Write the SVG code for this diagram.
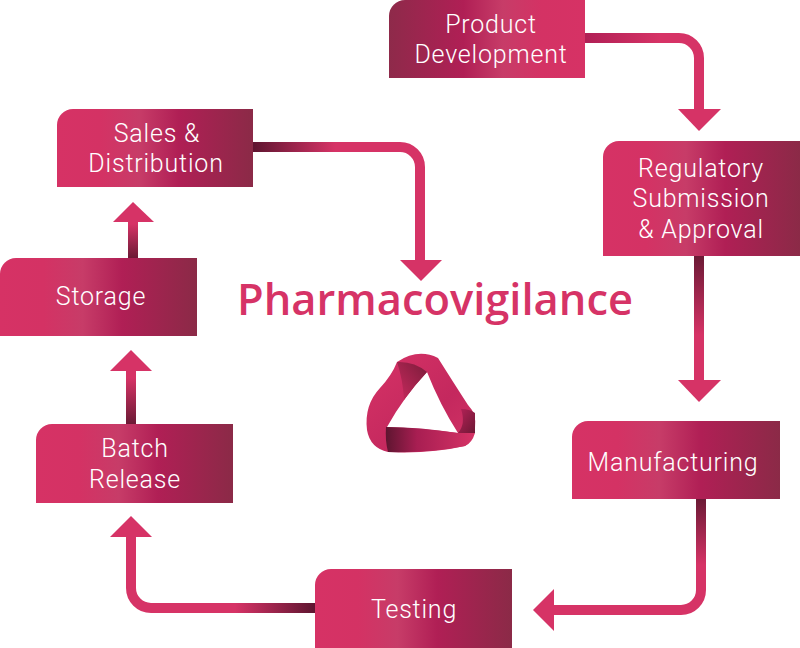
<svg xmlns="http://www.w3.org/2000/svg" width="800" height="648" viewBox="0 0 800 648">
<defs>
<style>
.lbl{font-family:Roboto,"Liberation Sans",sans-serif;font-weight:300;font-size:25px;letter-spacing:0.8px;fill:#ffffff;text-anchor:middle}
.title{font-family:"Open Sans","Noto Sans","Liberation Sans",sans-serif;font-weight:600;font-size:43px;fill:#d63366;text-anchor:middle}
.arrow{fill:#d63366}
.line{fill:none;stroke-width:10}
</style>
<linearGradient id="boxG" x1="0" y1="0" x2="1" y2="0">
<stop offset="0" stop-color="#d63265"/>
<stop offset="0.22" stop-color="#d43264"/>
<stop offset="0.42" stop-color="#c73c68"/>
<stop offset="0.62" stop-color="#b01f55"/>
<stop offset="1" stop-color="#8b2a47"/>
</linearGradient>
<linearGradient id="boxGR" x1="0" y1="0" x2="1" y2="0">
<stop offset="0" stop-color="#8e2a4a"/>
<stop offset="0.38" stop-color="#b01f55"/>
<stop offset="0.58" stop-color="#c73c68"/>
<stop offset="0.78" stop-color="#d43264"/>
<stop offset="1" stop-color="#d63265"/>
</linearGradient>
<linearGradient id="g1" gradientUnits="userSpaceOnUse" x1="585" y1="0" x2="660" y2="0">
<stop offset="0" stop-color="#b01f55"/><stop offset="1" stop-color="#d63366"/>
</linearGradient>
<linearGradient id="g2" gradientUnits="userSpaceOnUse" x1="0" y1="256" x2="0" y2="335">
<stop offset="0" stop-color="#6b1a35"/><stop offset="1" stop-color="#d63366"/>
</linearGradient>
<linearGradient id="g3" gradientUnits="userSpaceOnUse" x1="0" y1="499" x2="0" y2="565">
<stop offset="0" stop-color="#6b1a35"/><stop offset="1" stop-color="#d63366"/>
</linearGradient>
<linearGradient id="g4" gradientUnits="userSpaceOnUse" x1="315" y1="0" x2="235" y2="0">
<stop offset="0" stop-color="#5e1530"/><stop offset="1" stop-color="#d63366"/>
</linearGradient>
<linearGradient id="g5" gradientUnits="userSpaceOnUse" x1="0" y1="424" x2="0" y2="378">
<stop offset="0" stop-color="#6b1a35"/><stop offset="1" stop-color="#d63366"/>
</linearGradient>
<linearGradient id="g6" gradientUnits="userSpaceOnUse" x1="0" y1="258" x2="0" y2="224">
<stop offset="0" stop-color="#6b1a35"/><stop offset="1" stop-color="#d63366"/>
</linearGradient>
<linearGradient id="g7" gradientUnits="userSpaceOnUse" x1="253" y1="0" x2="335" y2="0">
<stop offset="0" stop-color="#5e1530"/><stop offset="1" stop-color="#d63366"/>
</linearGradient>
<linearGradient id="ribbonG" x1="0" y1="0" x2="1" y2="1">
<stop offset="0" stop-color="#d63366"/><stop offset="0.6" stop-color="#c4285e"/><stop offset="1" stop-color="#d23465"/>
</linearGradient>
<linearGradient id="darkTL" x1="1" y1="0" x2="0" y2="1">
<stop offset="0" stop-color="#7a1c3a"/><stop offset="1" stop-color="#c92a5e"/>
</linearGradient>
<linearGradient id="darkR" x1="0" y1="0" x2="1" y2="1">
<stop offset="0" stop-color="#b52258"/><stop offset="1" stop-color="#6e1834"/>
</linearGradient>
<linearGradient id="darkB" x1="0" y1="0" x2="1" y2="0">
<stop offset="0" stop-color="#5e1530"/><stop offset="0.35" stop-color="#a81e52"/><stop offset="1" stop-color="#d63366"/>
</linearGradient>
</defs>

<g id="connectors">
<path class="line" stroke="url(#g1)" d="M585 38 H679 A20 20 0 0 1 699 58 V111"/>
<polygon class="arrow" points="678,109 721,109 699,131"/>
<path class="line" stroke="url(#g2)" d="M699 256 V382"/>
<polygon class="arrow" points="678,380 721,380 699,402"/>
<path class="line" stroke="url(#g3)" d="M701 499 V590 A20 20 0 0 1 681 610 H552"/>
<polygon class="arrow" points="554,589 554,631 533,610"/>
<path class="line" stroke="url(#g4)" d="M315 608 H151 A20 20 0 0 1 131 588 V535"/>
<polygon class="arrow" points="110,537 152,537 131,516"/>
<path class="line" stroke="url(#g5)" d="M131 424 V369"/>
<polygon class="arrow" points="110,371 152,371 131,350"/>
<path class="line" stroke="url(#g6)" d="M133 258 V220"/>
<polygon class="arrow" points="113,222 154,222 133,202"/>
<path class="line" stroke="url(#g7)" d="M253 147 H400 A20 20 0 0 1 420 167 V262"/>
<polygon class="arrow" points="400,260 442,260 421,281"/>
</g>

<g id="product-development">
<path fill="url(#boxGR)" d="M405 0 H585 V78 H389 V16 A16 16 0 0 1 405 0 Z"/>
<text class="lbl" x="491" y="33">Product</text>
<text class="lbl" x="491" y="63">Development</text>
</g>

<g id="regulatory">
<path fill="url(#boxG)" d="M619 141 H800 V256 H603 V157 A16 16 0 0 1 619 141 Z"/>
<text class="lbl" x="701" y="177">Regulatory</text>
<text class="lbl" x="701" y="207">Submission</text>
<text class="lbl" x="701" y="238">&amp; Approval</text>
</g>

<g id="manufacturing">
<path fill="url(#boxG)" d="M588 421 H780 V499 H572 V437 A16 16 0 0 1 588 421 Z"/>
<text class="lbl" x="673" y="471">Manufacturing</text>
</g>

<g id="testing">
<path fill="url(#boxG)" d="M331 569 H512 V648 H315 V585 A16 16 0 0 1 331 569 Z"/>
<text class="lbl" x="414" y="618">Testing</text>
</g>

<g id="batch-release">
<path fill="url(#boxG)" d="M52 424 H233 V503 H36 V440 A16 16 0 0 1 52 424 Z"/>
<text class="lbl" x="135" y="457">Batch</text>
<text class="lbl" x="135" y="488">Release</text>
</g>

<g id="storage">
<path fill="url(#boxG)" d="M16 258 H197 V336 H0 V274 A16 16 0 0 1 16 258 Z"/>
<text class="lbl" x="101" y="305">Storage</text>
</g>

<g id="sales-distribution">
<path fill="url(#boxG)" d="M73 109 H253 V187 H57 V125 A16 16 0 0 1 73 109 Z"/>
<text class="lbl" x="157" y="142">Sales &amp;</text>
<text class="lbl" x="156" y="172">Distribution</text>
</g>

<g id="pharmacovigilance">
<text class="title" x="435" y="315" textLength="396" lengthAdjust="spacingAndGlyphs">Pharmacovigilance</text>
</g>

<g id="logo">
<path fill="url(#ribbonG)" d="M397 362 Q418 348 438 358 Q455 385 468 405 Q477 414 475 428 Q473 441 465 446 Q430 454 388 452 Q370 448 367 430 Q364 405 380 388 Q392 375 397 362 Z"/>
<path fill="#ffffff" d="M427 372 Q440 405 458 433 Q420 428 387 427 Q405 395 427 372 Z"/>
<path fill="url(#darkTL)" d="M397 362 Q414 361 427 372 Q414 386 404 400 Q403 380 397 362 Z"/>
<path fill="url(#darkR)" d="M461 409 Q470 409 475 413 L475 433 L458 433 Q466 424 461 409 Z"/>
<path fill="url(#darkB)" d="M386 427 Q420 427 458 433 L475 433 Q472 443 465 446 Q430 453 388 452 Q385 440 386 427 Z"/>
</g>
</svg>
